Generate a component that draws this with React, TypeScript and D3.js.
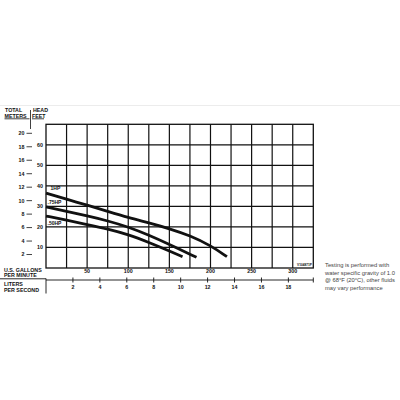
import React from "react";
import * as d3 from "d3";

const gpmTicks = [50, 100, 150, 200, 250, 300];
const lpsTicks = [2, 4, 6, 8, 10, 12, 14, 16, 18];
const feetTicks = [10, 20, 30, 40, 50, 60];
const meterTicks = [2, 4, 6, 8, 10, 12, 14, 16, 18, 20];

const hp100Flow = [0, 25, 50, 75, 100, 125, 150, 175, 200, 220];
const hp100Head = [36.5, 33.5, 30.6, 27.6, 24.6, 22, 19.2, 15.8, 11, 5.5];
const hp75Flow = [0, 25, 50, 75, 100, 125, 150, 183];
const hp75Head = [29.8, 27.6, 25.4, 23, 20, 16, 11.5, 5.2];
const hp50Flow = [0, 25, 50, 75, 100, 125, 150, 166];
const hp50Head = [25.3, 23.3, 21.2, 19, 16.3, 12.5, 8.3, 5.5];

const curveNames = ["1HP", ".75HP", ".50HP"];
const noteLines = [
  "Testing is performed with",
  "water specific gravity of 1.0",
  "@ 68\u00B0F (20\u00B0C), other fluids",
  "may vary performance",
];

export default function App() {
  const left = 46, right = 313.3, top = 124.3, bottom = 268;
  const x = d3.scaleLinear().domain([0, 325]).range([left, right]);
  const y = d3.scaleLinear().domain([0, 70]).range([bottom, top]);
  const xl = d3.scaleLinear().domain([0, 19.85]).range([left, right]);
  const line = d3
    .line<[number, number]>()
    .x((d) => x(d[0]))
    .y((d) => y(d[1]))
    .curve(d3.curveBasis);
  const series = [
    { name: curveNames[0], pts: hp100Flow.map((f, i) => [f, hp100Head[i]] as [number, number]), ly: 190 },
    { name: curveNames[1], pts: hp75Flow.map((f, i) => [f, hp75Head[i]] as [number, number]), ly: 203.5 },
    { name: curveNames[2], pts: hp50Flow.map((f, i) => [f, hp50Head[i]] as [number, number]), ly: 225 },
  ];
  const vGrid = d3.range(25, 325, 25);
  const hGrid = d3.range(10, 70, 10);
  const font = "'Liberation Sans', Arial, sans-serif";
  const lbl = { fontFamily: font, fontWeight: 700, fontSize: 5.3, fill: "#111" } as const;
  const liY = 280;

  return (
    <svg
      width={400}
      height={400}
      style={{ position: "absolute", left: 0, top: 0, background: "#fff" }}
    >
      <rect x={0} y={0} width={400} height={400} fill="#fff" />
      <line x1={0} x2={400} y1={105.5} y2={105.5} stroke="#ececec" strokeWidth={1} />
      {/* header */}
      <text x={5} y={112} {...lbl}>TOTAL</text>
      <text x={4.5} y={117.5} {...lbl}>METERS</text>
      <line x1={4.5} x2={29.5} y1={118.8} y2={118.8} stroke="#111" strokeWidth={0.8} />
      <text x={33} y={112} {...lbl}>HEAD</text>
      <text x={32} y={117.5} {...lbl}>FEET</text>
      <line x1={32} x2={44} y1={118.8} y2={118.8} stroke="#111" strokeWidth={0.8} />
      <line x1={30.5} x2={30.5} y1={110} y2={129} stroke="#111" strokeWidth={0.8} />

      {/* grid */}
      {vGrid.map((g) => (
        <line key={"v" + g} x1={x(g)} x2={x(g)} y1={top} y2={bottom} stroke="#111" strokeWidth={1.2} />
      ))}
      {hGrid.map((g) => (
        <line key={"h" + g} x1={left} x2={right} y1={y(g)} y2={y(g)} stroke="#111" strokeWidth={1.2} />
      ))}
      <rect x={left} y={top} width={right - left} height={bottom - top} fill="none" stroke="#111" strokeWidth={1.3} />

      {/* feet labels */}
      {feetTicks.map((t) => (
        <text key={"f" + t} x={43} y={y(t) + 1.9} textAnchor="end" {...lbl}>{t}</text>
      ))}
      {/* meter labels */}
      {meterTicks.map((m) => {
        const yy = y(m * 3.28084);
        return (
          <g key={"m" + m}>
            <text x={24.5} y={yy + 1.9} textAnchor="end" {...lbl}>{m}</text>
            <line x1={26.5} x2={32} y1={yy} y2={yy} stroke="#111" strokeWidth={0.8} />
          </g>
        );
      })}

      {/* curves */}
      {series.map((s) => (
        <path key={s.name} d={line(s.pts) || ""} fill="none" stroke="#111" strokeWidth={2.8} strokeLinecap="butt" />
      ))}
      {series.map((s) => (
        <text key={"l" + s.name} x={s.name === "1HP" ? 50.5 : 47.5} y={s.ly} {...lbl} fontSize={5}>{s.name}</text>
      ))}
      <text x={312} y={265.8} textAnchor="end" {...lbl} fontSize={3.2}>V104871P</text>

      {/* gallons axis */}
      <text x={4} y={271.5} {...lbl}>U.S. GALLONS</text>
      <text x={4} y={277} {...lbl}>PER MINUTE</text>
      {gpmTicks.map((t) => (
        <text key={"g" + t} x={x(t)} y={273.2} textAnchor="middle" {...lbl}>{t}</text>
      ))}
      <line x1={0} x2={left} y1={278.8} y2={278.8} stroke="#111" strokeWidth={0.9} />

      {/* liters axis */}
      <text x={4} y={285.5} {...lbl}>LITERS</text>
      <text x={4} y={292} {...lbl}>PER SECOND</text>
      <line x1={left} x2={left} y1={278.5} y2={293.5} stroke="#111" strokeWidth={0.9} />
      <line x1={left} x2={right} y1={liY} y2={liY} stroke="#111" strokeWidth={0.9} />
      {lpsTicks.map((t) => (
        <g key={"lp" + t}>
          <line x1={xl(t)} x2={xl(t)} y1={liY - 2.5} y2={liY + 2.5} stroke="#111" strokeWidth={0.9} />
          <text x={xl(t)} y={289} textAnchor="middle" {...lbl}>{t}</text>
        </g>
      ))}
      <line x1={right} x2={right} y1={liY - 2.5} y2={liY + 2.5} stroke="#111" strokeWidth={0.9} />

      {/* note */}
      {noteLines.map((t, i) => (
        <text key={"n" + i} x={325} y={267 + i * 7.6} fontFamily={font} fontSize={5.8} fill="#444">{t}</text>
      ))}
    </svg>
  );
}
